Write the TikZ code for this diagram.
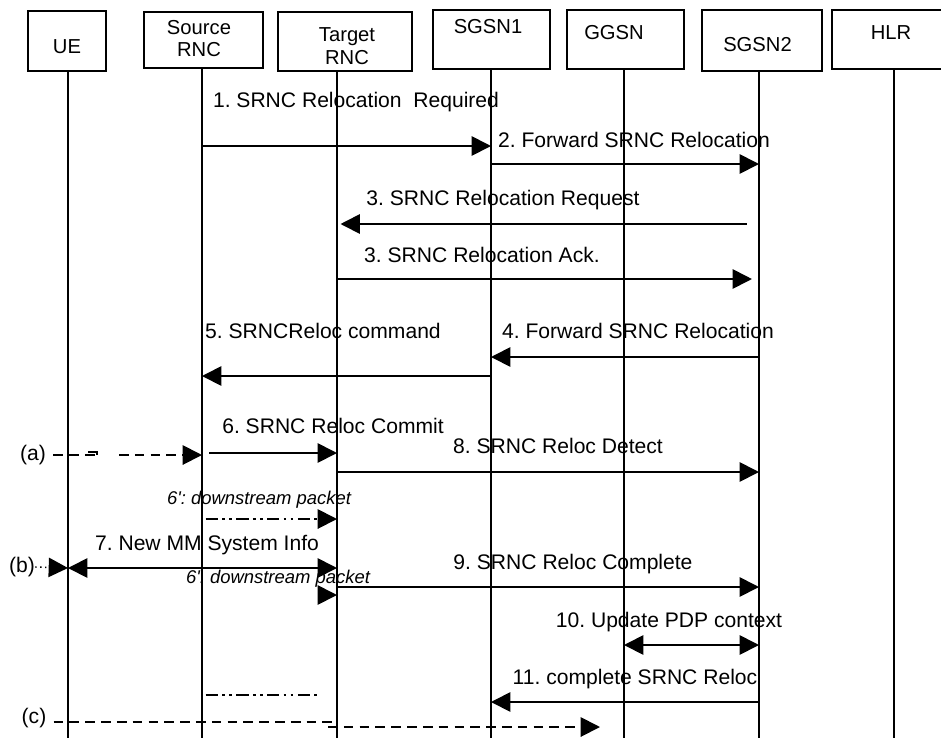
\documentclass[tikz,border=0pt]{standalone}
\usepackage{fontspec}
\setmainfont{Liberation Sans}
\usetikzlibrary{arrows.meta}
\frenchspacing

\tikzset{
  entity/.style={draw, line width=1.4pt, inner sep=0pt},
  boxtext/.style={font=\fontsize{11.5}{13}\selectfont, align=center, inner sep=0pt},
  life/.style={line width=1.4pt},
  msg/.style={line width=1pt, -{Triangle[length=11pt, width=11pt]}},
  both/.style={line width=1pt, {Triangle[length=11pt, width=11pt]}-{Triangle[length=11pt, width=11pt]}},
  fwd/.style={line width=1.1pt, dash pattern=on 5.5pt off 3.5pt},
  pkt/.style={line width=1.1pt, dash pattern=on 7pt off 2.5pt on 1.5pt off 2.5pt on 1.5pt off 2.5pt},
  msgtext/.style={font=\fontsize{12}{14}\selectfont, inner sep=0pt, text height=8.6pt, text depth=2.5pt},
  pkttext/.style={font=\fontsize{10.5}{12}\selectfont\itshape, inner sep=0pt, text height=7.6pt, text depth=2.2pt}
}

\begin{document}
\begin{tikzpicture}[x=0.02cm, y=-0.02cm]

    \useasboundingbox (0,0) rectangle (941,738);
    \clip (0,0) rectangle (941,738);

    % === Entity boxes ===
    \node[entity, minimum width=1.56cm, minimum height=1.20cm] (UE)    at (67,41)    {};
    \node[entity, minimum width=2.38cm, minimum height=1.12cm] (SRNC)  at (203.5,40) {};
    \node[entity, minimum width=2.68cm, minimum height=1.18cm] (TRNC)  at (345,41.5) {};
    \node[entity, minimum width=2.34cm, minimum height=1.18cm] (SGSN1) at (491.5,39.5) {};
    \node[entity, minimum width=2.34cm, minimum height=1.18cm] (GGSN)  at (625.5,39.5) {};
    \node[entity, minimum width=2.40cm, minimum height=1.22cm] (SGSN2) at (762,40.5)  {};
    \node[entity, minimum width=2.48cm, minimum height=1.18cm] (HLR)   at (894,39.5)  {};

    % Box labels
    \node[boxtext] (UEt)    at (67,47)    {UE};
    \node[boxtext] (SRNCt)  at (199,38.5) {Source\\RNC};
    \node[boxtext] (TRNCt)  at (347,46.5) {Target\\RNC};
    \node[boxtext] (SGSN1t) at (488,27)   {SGSN1};
    \node[boxtext] (GGSNt)  at (614,33)   {GGSN};
    \node[boxtext] (SGSN2t) at (757.5,45) {SGSN2};
    \node[boxtext] (HLRt)   at (891,33)   {HLR};

    % === Lifelines ===
    \foreach \n/\x/\y in {UE/68/71, SRNC/202/68, TRNC/337/71, SGSN1/491/69, GGSN/624/69, SGSN2/759/71, HLR/894/69} {
        \coordinate (\n-l) at (\x,\y);
        \draw[life] (\n-l) -- (\n-l |- 0,738);
    }

    % === Relocation preparation ===
    \node[msgtext] (t1) at (356,102) {1. SRNC Relocation\ \ Required};
    \draw[msg] (SRNC-l |- 0,146) -- (SGSN1-l |- 0,146);

    \node[msgtext] (t2) at (634,142) {2. Forward SRNC Relocation};
    \draw[msg] (SGSN1-l |- 0,164) -- (SGSN2-l |- 0,164);

    \node[msgtext] (t3a) at (503,200) {3. SRNC Relocation Request};
    \draw[msg, shorten <=7pt, shorten >=2pt] (SGSN2-l |- 0,224) -- (TRNC-l |- 0,224);

    \node[msgtext] (t3b) at (482,257) {3. SRNC Relocation Ack.};
    \draw[msg, shorten >=4pt] (TRNC-l |- 0,279) -- (SGSN2-l |- 0,279);

    \node[msgtext] (t4) at (638,333) {4. Forward SRNC Relocation};
    \draw[msg] (SGSN2-l |- 0,357) -- (SGSN1-l |- 0,357);

    \node[msgtext] (t5) at (323,333) {5. SRNCReloc command};
    \draw[msg] (SGSN1-l |- 0,376) -- (SRNC-l |- 0,376);

    % === Relocation commit ===
    \node[msgtext] (lblA) at (33,455) {(a)};
    \coordinate (a1) at (100,455);
    \coordinate (a2) at (119,455);
    \draw[fwd] ([xshift=4pt]lblA.east) -- (a1);
    \draw[fwd, -{Triangle[length=11pt, width=11pt]}] (a2) -- (SRNC-l |- 0,455);
    \draw[line width=0.8pt] (88,452) -- (97,452) -- (97,455);

    \node[msgtext] (t6) at (333,428) {6. SRNC Reloc Commit};
    \draw[msg, shorten <=4pt] (SRNC-l |- 0,453) -- (TRNC-l |- 0,453);

    \node[msgtext] (t8) at (558,448) {8. SRNC Reloc Detect};
    \draw[msg] (TRNC-l |- 0,472) -- (SGSN2-l |- 0,472);

    \node[pkttext] (p1) at (259,500) {6\textquotesingle: downstream packet};
    \draw[pkt, -{Triangle[length=11pt, width=11pt]}, shorten <=2pt] (SRNC-l |- 0,519) -- (TRNC-l |- 0,519);

    \node[msgtext] (t7) at (207,545) {7. New MM System Info};
    \node[msgtext] (lblB) at (22,567) {(b)};
    \draw[line width=0.8pt, dotted, -{Triangle[length=11pt, width=11pt]}] (lblB.east) -- (UE-l |- 0,568);
    \draw[both] (UE-l |- 0,568) -- (TRNC-l |- 0,568);

    \node[pkttext] (p2) at (278,579) {6\textquotesingle. downstream packet};
    \coordinate (p2s) at (319,595);
    \draw[msg] (p2s) -- (TRNC-l |- 0,595);

    \node[msgtext] (t9) at (573,564) {9. SRNC Reloc Complete};
    \draw[msg] (TRNC-l |- 0,587) -- (SGSN2-l |- 0,587);

    % === PDP context update ===
    \node[msgtext] (t10) at (669,622) {10. Update PDP context};
    \draw[both] (GGSN-l |- 0,645) -- (SGSN2-l |- 0,645);

    \node[msgtext] (t11) at (635,679) {11. complete SRNC Reloc};
    \draw[msg] (SGSN2-l |- 0,702) -- (SGSN1-l |- 0,702);

    \coordinate (p3e) at (318,695);
    \draw[pkt, shorten <=2pt] (SRNC-l |- 0,695) -- (p3e);

    \node[msgtext] (lblC) at (34,718) {(c)};
    \coordinate (c1) at (332,722);
    \coordinate (c2) at (328,727);
    \coordinate (c3) at (600,727);
    \draw[fwd] ([xshift=4pt]lblC.east |- c1) -- (c1);
    \draw[fwd, -{Triangle[length=11pt, width=11pt]}] (c2) -- (c3);

\end{tikzpicture}
\end{document}
